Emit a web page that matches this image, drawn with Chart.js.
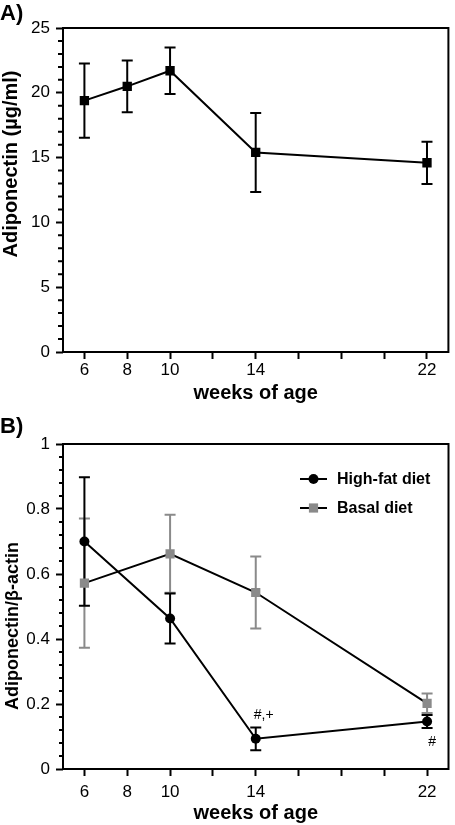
<!DOCTYPE html>
<html>
<head>
<meta charset="utf-8">
<script src="https://cdn.jsdelivr.net/npm/chart.js@4"></script>
<style>
body { margin: 0; background: #fff; }
canvas { position: absolute; left: 0; }
#chartA { top: 0; }
#chartB { top: 405px; }
</style>
</head>
<body>
<canvas id="chartA" width="455" height="405"></canvas>
<canvas id="chartB" width="455" height="420"></canvas>
<script>
// panel A: serum adiponectin
const weeksA = [6, 8, 10, 14, 22];
const adipoA = [19.4, 20.5, 21.7, 15.4, 14.6];
const adipoErrA = [2.87, 2.0, 1.8, 3.05, 1.63];

// panel B: adiponectin / beta-actin
const weeksB = [6, 10, 14, 22];
const highFat = [0.70, 0.463, 0.093, 0.146];
const highFatErr = [0.198, 0.077, 0.035, 0.02];
const basal = [0.572, 0.662, 0.543, 0.202];
const basalErr = [0.199, 0.12, 0.111, 0.03];
const marksB = ['', '', '#,+', '#'];

const xTicks = [6, 8, 10, 12, 14, 16, 18, 20, 22];
const xLabels = [6, 8, 10, 14, 22];
const yTicksA = [0, 5, 10, 15, 20, 25];
const yTicksB = [0, 0.2, 0.4, 0.6, 0.8, 1];

const FONT = "'Liberation Sans', Arial, Helvetica, sans-serif";
const GREY = '#8a8a8a';
Chart.defaults.font.family = FONT;
Chart.defaults.color = '#000';

// error bars, box frame, minor ticks, titles, legend
const extras = {
    id: 'extras',
    beforeDatasetsDraw(chart) {
        const {ctx, scales: {x, y}} = chart;
        ctx.save();
        ctx.lineWidth = 2;
        for (let d = chart.data.datasets.length - 1; d >= 0; d--) {
            const ds = chart.data.datasets[d];
            ctx.strokeStyle = ds.errorColor;
            ds.data.forEach((p, i) => {
                const px = x.getPixelForValue(p.x);
                const y1 = y.getPixelForValue(p.y + ds.errors[i]);
                const y2 = y.getPixelForValue(p.y - ds.errors[i]);
                ctx.beginPath();
                ctx.moveTo(px, y1); ctx.lineTo(px, y2);
                ctx.moveTo(px - 5.5, y1); ctx.lineTo(px + 5.5, y1);
                ctx.moveTo(px - 5.5, y2); ctx.lineTo(px + 5.5, y2);
                ctx.stroke();
            });
        }
        ctx.restore();
    },
    afterDraw(chart, args, opts) {
        const {ctx, chartArea: a, scales: {x, y}} = chart;
        ctx.save();
        // frame
        ctx.strokeStyle = '#000';
        ctx.lineWidth = 2;
        ctx.strokeRect(a.left, a.top, a.right - a.left, a.bottom - a.top);
        // minor ticks on y
        const n = Math.round(y.max / opts.minorStep);
        ctx.beginPath();
        for (let i = 0; i <= n; i++) {
            if (i % 5 === 0) continue;
            const py = y.getPixelForValue(i * opts.minorStep);
            ctx.moveTo(a.left - opts.minorLen, py);
            ctx.lineTo(a.left, py);
        }
        ctx.stroke();
        // panel letter
        ctx.fillStyle = '#000';
        ctx.textBaseline = 'alphabetic';
        ctx.textAlign = 'left';
        ctx.font = 'bold 22px ' + FONT;
        ctx.fillText(opts.panel, 0, opts.panelY);
        // y title
        ctx.save();
        ctx.translate(opts.yTitleX, opts.yTitleY);
        ctx.rotate(-Math.PI / 2);
        ctx.textAlign = 'center';
        ctx.font = 'bold ' + opts.yTitleSize + 'px ' + FONT;
        ctx.fillText(opts.yTitle, 0, 0);
        ctx.restore();
        // legend
        if (opts.legend) {
            chart.data.datasets.forEach((ds, i) => {
                const ly = opts.legend.y + i * 29;
                const lx = opts.legend.x;
                ctx.strokeStyle = ds.borderColor;
                ctx.lineWidth = 2;
                ctx.beginPath();
                ctx.moveTo(lx, ly); ctx.lineTo(lx + 27, ly);
                ctx.stroke();
                ctx.fillStyle = ds.pointBackgroundColor;
                ctx.strokeStyle = ds.pointBackgroundColor;
                Chart.helpers.drawPoint(ctx, {pointStyle: ds.pointStyle, radius: ds.pointRadius, borderWidth: 0, rotation: 0}, lx + 13.5, ly);
                ctx.fillStyle = '#000';
                ctx.textAlign = 'left';
                ctx.textBaseline = 'middle';
                ctx.font = 'bold 16px ' + FONT;
                ctx.fillText(ds.label, lx + 37, ly + 1);
            });
        }
        // significance marks
        if (opts.marks) {
            ctx.fillStyle = '#000';
            ctx.font = '14px ' + FONT;
            ctx.textBaseline = 'alphabetic';
            const ds = chart.data.datasets[0];
            opts.marks.forEach((m, i) => {
                if (!m) return;
                const px = x.getPixelForValue(ds.data[i].x);
                const py = y.getPixelForValue(ds.data[i].y);
                if (i === opts.marks.length - 1) {
                    ctx.textAlign = 'center';
                    ctx.fillText(m, px + 5, py + 24);
                } else {
                    ctx.textAlign = 'left';
                    ctx.fillText(m, px - 2, py - 20);
                }
            });
        }
        ctx.restore();
    }
};

function xScale(height, pad) {
    return {
        type: 'linear', min: 5, max: 23,
        afterBuildTicks: s => { s.ticks = xTicks.map(v => ({value: v})); },
        afterFit: s => { s.height = height; },
        border: {display: false},
        grid: {drawOnChartArea: false, tickLength: 7, tickWidth: 2, tickColor: '#000'},
        ticks: {
            font: {size: 17}, color: '#000', padding: pad, maxRotation: 0, autoSkip: false,
            callback: v => xLabels.includes(v) ? String(v) : ''
        },
        title: {display: true, text: 'weeks of age', font: {size: 20, weight: 'bold'}, color: '#000', padding: 0}
    };
}

function yScale(max, tickVals) {
    return {
        min: 0, max: max,
        afterBuildTicks: s => { s.ticks = tickVals.map(v => ({value: v})); },
        afterFit: s => { s.width = 63; },
        border: {display: false},
        grid: {drawOnChartArea: false, tickLength: 7, tickWidth: 2, tickColor: '#000'},
        ticks: {font: {size: 17}, color: '#000', padding: 6, callback: v => String(v)}
    };
}

const chartA = new Chart(document.getElementById('chartA'), {
    type: 'line',
    data: {
        datasets: [{
            label: 'Adiponectin',
            data: weeksA.map((w, i) => ({x: w, y: adipoA[i]})),
            errors: adipoErrA,
            errorColor: '#000',
            borderColor: '#000',
            borderWidth: 2,
            pointStyle: 'rect',
            pointRadius: 6.6,
            pointBorderWidth: 0,
            pointBackgroundColor: '#000',
            tension: 0
        }]
    },
    options: {
        responsive: false,
        animation: false,
        layout: {padding: {top: 28, right: 4, left: 0, bottom: 0}},
        scales: {x: xScale(53, 1), y: yScale(25, yTicksA)},
        plugins: {
            legend: {display: false},
            tooltip: {enabled: false},
            extras: {
                panel: 'A)', panelY: 20,
                yTitle: 'Adiponectin (µg/ml)', yTitleX: 17, yTitleY: 164, yTitleSize: 20,
                minorStep: 1, minorLen: 5
            }
        }
    },
    plugins: [extras]
});

const chartB = new Chart(document.getElementById('chartB'), {
    type: 'line',
    data: {
        datasets: [
            {
                label: 'High-fat diet',
                data: weeksB.map((w, i) => ({x: w, y: highFat[i]})),
                errors: highFatErr,
                errorColor: '#000',
                borderColor: '#000',
                borderWidth: 2,
                pointStyle: 'circle',
                pointRadius: 5,
                pointBorderWidth: 0,
                pointBackgroundColor: '#000',
                tension: 0
            },
            {
                label: 'Basal diet',
                data: weeksB.map((w, i) => ({x: w, y: basal[i]})),
                errors: basalErr,
                errorColor: GREY,
                borderColor: '#000',
                borderWidth: 2,
                pointStyle: 'rect',
                pointRadius: 6.5,
                pointBorderWidth: 0,
                pointBackgroundColor: GREY,
                tension: 0
            }
        ]
    },
    options: {
        responsive: false,
        animation: false,
        layout: {padding: {top: 39, right: 4, left: 0, bottom: 0}},
        scales: {x: xScale(56, 6), y: yScale(1, yTicksB)},
        plugins: {
            legend: {display: false},
            tooltip: {enabled: false},
            extras: {
                panel: 'B)', panelY: 28,
                yTitle: 'Adiponectin/β-actin', yTitleX: 18, yTitleY: 221, yTitleSize: 18,
                minorStep: 0.04, minorLen: 4,
                legend: {x: 300, y: 74},
                marks: marksB
            }
        }
    },
    plugins: [extras]
});
</script>
</body>
</html>
